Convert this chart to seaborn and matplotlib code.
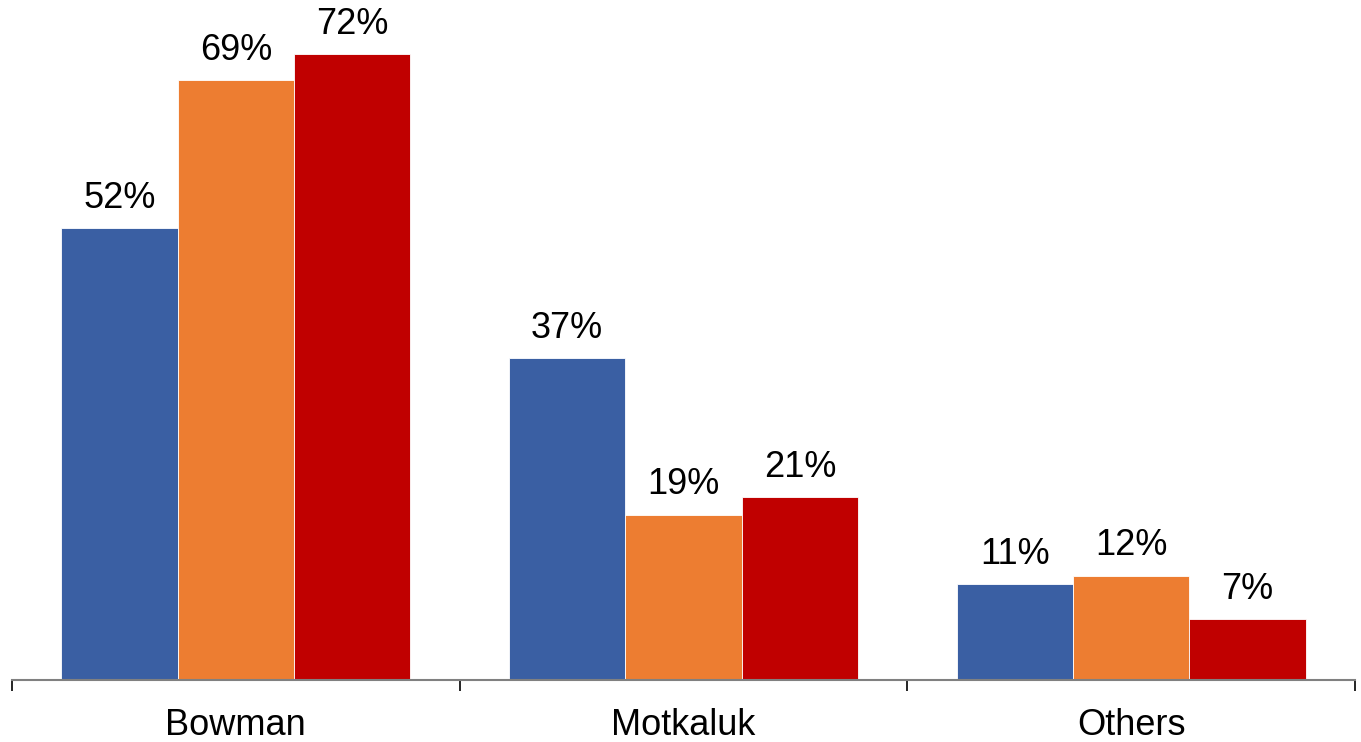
import pandas as pd
import matplotlib.pyplot as plt
import seaborn as sns
from matplotlib import font_manager
from matplotlib.ticker import FixedLocator

# --- data ---
categories = ["Bowman", "Motkaluk", "Others"]
series = ["Series 1", "Series 2", "Series 3"]
values_s1 = [52, 37, 11]
values_s2 = [69, 19, 12]
values_s3 = [72, 21, 7]

df = pd.DataFrame({
    "Category": categories * 3,
    "Series": [series[0]] * 3 + [series[1]] * 3 + [series[2]] * 3,
    "Value": values_s1 + values_s2 + values_s3,
})

palette = {series[0]: "#3A5FA3", series[1]: "#ED7D31", series[2]: "#C00000"}

sns.set_style("white")

# pick the regular (not narrow) Liberation Sans file
regular = [f for f in font_manager.findSystemFonts()
           if f.endswith("LiberationSans-Regular.ttf")]
if regular:
    font_manager.fontManager.addfont(regular[0])
    fam = font_manager.FontProperties(fname=regular[0]).get_name()
    plt.rcParams['font.family'] = [fam, 'DejaVu Sans']
else:
    plt.rcParams['font.family'] = ['Liberation Sans', 'DejaVu Sans']

fig = plt.figure(figsize=(13.61, 7.42), dpi=100, facecolor='white')
ax = fig.add_axes([12 / 1361, 1 - 680 / 742, 1343 / 1361, 678 / 742])

sns.barplot(
    data=df, x="Category", y="Value", hue="Series",
    order=categories, hue_order=series, palette=palette,
    width=0.78, saturation=1, edgecolor="white", linewidth=0.6,
    legend=False, ax=ax,
)

fp = font_manager.FontProperties(fname=regular[0], size=26) if regular else None

# value labels
for p in ax.patches:
    h = p.get_height()
    ax.annotate(f"{int(round(h))}%", (p.get_x() + p.get_width() / 2, h),
                xytext=(0, 9), textcoords="offset points",
                ha="center", va="bottom", fontsize=26, color="black",
                fontproperties=fp)

ax.set_xlim(-0.5, 2.5)
ax.set_ylim(0, 78)
ax.set_xlabel("")
ax.set_ylabel("")
ax.set_yticks([])

# axis line and separator ticks
for s in ["top", "right", "left"]:
    ax.spines[s].set_visible(False)
ax.spines["bottom"].set_color("#808080")
ax.spines["bottom"].set_linewidth(1.5)
ax.xaxis.set_minor_locator(FixedLocator([-0.5, 0.5, 1.5, 2.5]))
ax.tick_params(axis="x", which="minor", length=8, width=1.2, color="black",
               direction="out", bottom=True)
ax.tick_params(axis="x", which="major", length=0, pad=20, labelsize=26,
               labelcolor="black")
if fp is not None:
    for lbl in ax.get_xticklabels():
        lbl.set_fontproperties(fp)

fig.savefig("out.png", dpi=100, facecolor="white")
plt.close(fig)
